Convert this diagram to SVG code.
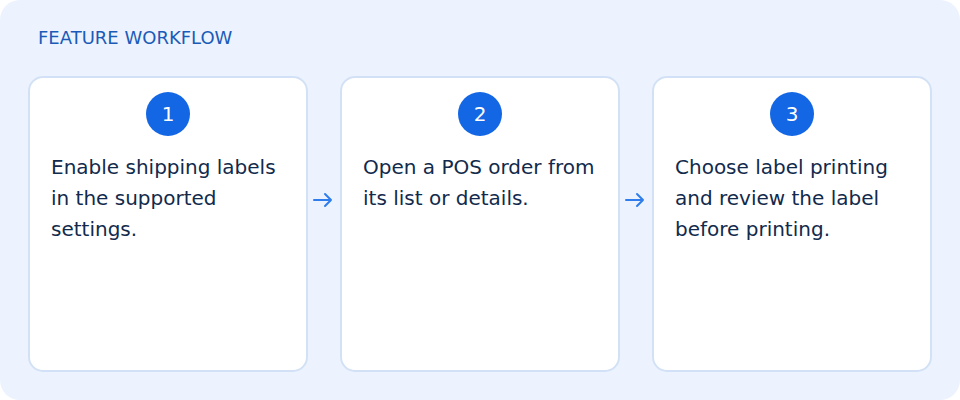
<svg xmlns="http://www.w3.org/2000/svg" width="960" height="400" viewBox="0 0 960 400">
<style>
.bg{fill:#ECF3FE;}
.card{fill:#FFFFFF;stroke:#D2E1F5;stroke-width:2;}
.badge{fill:#1367E4;}
.num{font-family:"DejaVu Sans",Verdana,sans-serif;font-size:20px;fill:#FFFFFF;text-anchor:middle;}
.body{font-family:"DejaVu Sans",Verdana,sans-serif;font-size:20px;fill:#122A4C;}
.title{font-family:"DejaVu Sans",Verdana,sans-serif;font-size:18px;fill:#1A5BB8;}
.conn{fill:none;stroke:#2F7DEC;stroke-width:2;stroke-linecap:round;stroke-linejoin:round;}
</style>
<rect class="bg" x="0" y="0" width="960" height="400" rx="20" ry="20"/>
<text class="title" x="38" y="44">FEATURE WORKFLOW</text>
<g id="step1">
<rect class="card" x="29" y="77" width="278" height="294" rx="14" ry="14"/>
<circle class="badge" cx="168" cy="114" r="22"/>
<text class="num" x="168" y="121">1</text>
<text class="body" x="51" y="174">Enable shipping labels</text>
<text class="body" x="51" y="205">in the supported</text>
<text class="body" x="51" y="236">settings.</text>
</g>
<g id="step2">
<rect class="card" x="341" y="77" width="278" height="294" rx="14" ry="14"/>
<circle class="badge" cx="480" cy="114" r="22"/>
<text class="num" x="480" y="121">2</text>
<text class="body" x="363" y="174">Open a POS order from</text>
<text class="body" x="363" y="205">its list or details.</text>
</g>
<g id="step3">
<rect class="card" x="653" y="77" width="278" height="294" rx="14" ry="14"/>
<circle class="badge" cx="792" cy="114" r="22"/>
<text class="num" x="792" y="121">3</text>
<text class="body" x="675" y="174">Choose label printing</text>
<text class="body" x="675" y="205">and review the label</text>
<text class="body" x="675" y="236">before printing.</text>
</g>
<g id="connectors">
<path class="conn" d="M314 200 H331 M325 194 L331 200 L325 206"/>
<path class="conn" d="M626 200 H643 M637 194 L643 200 L637 206"/>
</g>
</svg>
